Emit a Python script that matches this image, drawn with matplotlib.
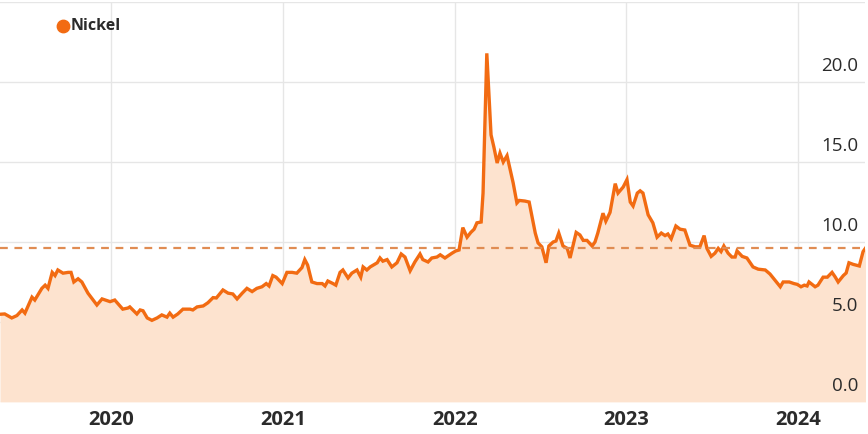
import pandas as pd
import matplotlib.pyplot as plt
import matplotlib.dates as mdates
import matplotlib.transforms as mtransforms

# weekly nickel series
dates = [
    "2019-05-10", "2019-05-20", "2019-06-04", "2019-06-15", "2019-06-26", "2019-07-02",
    "2019-07-17", "2019-07-23", "2019-08-07", "2019-08-14", "2019-08-20", "2019-08-29",
    "2019-09-04", "2019-09-10", "2019-09-21", "2019-10-02", "2019-10-08", "2019-10-14",
    "2019-10-23", "2019-10-31", "2019-11-13", "2019-12-02", "2019-12-13", "2019-12-30",
    "2020-01-09", "2020-01-26", "2020-02-06", "2020-02-10", "2020-02-25", "2020-03-03",
    "2020-03-09", "2020-03-18", "2020-03-28", "2020-04-08", "2020-04-18", "2020-04-29",
    "2020-05-05", "2020-05-12", "2020-05-22", "2020-06-02", "2020-06-17", "2020-06-23",
    "2020-07-02", "2020-07-15", "2020-07-25", "2020-08-05", "2020-08-12", "2020-08-26",
    "2020-09-06", "2020-09-16", "2020-09-25", "2020-10-06", "2020-10-16", "2020-10-27",
    "2020-11-06", "2020-11-17", "2020-11-26", "2020-12-02", "2020-12-10", "2020-12-17",
    "2020-12-30", "2021-01-09", "2021-01-20", "2021-01-30", "2021-02-10", "2021-02-16",
    "2021-02-22", "2021-03-03", "2021-03-14", "2021-03-25", "2021-03-31", "2021-04-06",
    "2021-04-17", "2021-04-23", "2021-05-02", "2021-05-08", "2021-05-19", "2021-05-27",
    "2021-06-07", "2021-06-15", "2021-06-20", "2021-06-28", "2021-07-05", "2021-07-20",
    "2021-07-26", "2021-08-01", "2021-08-10", "2021-08-20", "2021-08-31", "2021-09-09",
    "2021-09-17", "2021-09-28", "2021-10-08", "2021-10-19", "2021-10-25", "2021-11-05",
    "2021-11-13", "2021-11-24", "2021-12-01", "2021-12-11", "2021-12-26", "2022-01-03",
    "2022-01-10", "2022-01-18", "2022-01-27", "2022-02-04", "2022-02-11", "2022-02-17",
    "2022-02-26", "2022-03-02", "2022-03-10", "2022-03-19", "2022-03-25", "2022-04-01",
    "2022-04-07", "2022-04-14", "2022-04-22", "2022-05-05", "2022-05-13", "2022-05-18",
    "2022-05-30", "2022-06-08", "2022-06-21", "2022-06-27", "2022-07-05", "2022-07-14",
    "2022-07-20", "2022-07-29", "2022-08-04", "2022-08-10", "2022-08-19", "2022-08-28",
    "2022-09-03", "2022-09-16", "2022-09-24", "2022-10-01", "2022-10-09", "2022-10-20",
    "2022-10-26", "2022-11-01", "2022-11-12", "2022-11-18", "2022-11-27", "2022-12-08",
    "2022-12-14", "2022-12-25", "2023-01-02", "2023-01-09", "2023-01-15", "2023-01-24",
    "2023-01-30", "2023-02-05", "2023-02-16", "2023-02-26", "2023-03-07", "2023-03-16",
    "2023-03-24", "2023-03-30", "2023-04-06", "2023-04-16", "2023-04-25", "2023-05-05",
    "2023-05-16", "2023-05-27", "2023-06-06", "2023-06-15", "2023-06-21", "2023-06-30",
    "2023-07-08", "2023-07-15", "2023-07-21", "2023-07-27", "2023-08-05", "2023-08-13",
    "2023-08-20", "2023-08-24", "2023-09-04", "2023-09-14", "2023-09-27", "2023-10-08",
    "2023-10-23", "2023-11-02", "2023-11-13", "2023-11-24", "2023-11-30", "2023-12-13",
    "2023-12-23", "2023-12-30", "2024-01-07", "2024-01-14", "2024-01-20", "2024-01-24",
    "2024-02-06", "2024-02-12", "2024-02-23", "2024-03-03", "2024-03-13", "2024-03-20",
    "2024-03-26", "2024-04-06", "2024-04-12", "2024-04-18", "2024-04-27", "2024-05-10",
    "2024-05-18", "2024-05-24",
]
values = [
    5.48, 5.50, 5.25, 5.40, 5.75, 5.55,
    6.55, 6.37, 7.10, 7.30, 7.10, 8.10,
    7.90, 8.25, 8.05, 8.10, 8.10, 7.50,
    7.70, 7.50, 6.80, 6.06, 6.44, 6.27,
    6.37, 5.80, 5.87, 5.94, 5.50, 5.75,
    5.70, 5.25, 5.10, 5.25, 5.44, 5.30,
    5.55, 5.30, 5.50, 5.80, 5.80, 5.75,
    5.94, 6.00, 6.20, 6.52, 6.50, 7.00,
    6.80, 6.75, 6.44, 6.80, 7.10, 6.90,
    7.10, 7.20, 7.40, 7.25, 7.90, 7.80,
    7.40, 8.10, 8.10, 8.05, 8.40, 8.90,
    8.56, 7.50, 7.40, 7.40, 7.25, 7.56,
    7.40, 7.30, 8.10, 8.25, 7.75, 8.05,
    8.25, 7.80, 8.44, 8.25, 8.44, 8.70,
    9.00, 8.80, 8.90, 8.44, 8.70, 9.25,
    9.06, 8.20, 8.75, 9.25, 8.90, 8.75,
    9.00, 9.06, 9.20, 9.00, 9.30, 9.44,
    9.50, 10.90, 10.30, 10.60, 10.80, 11.20,
    11.25, 13.06, 21.80, 16.70, 15.94, 14.94,
    15.56, 15.00, 15.40, 13.70, 12.44, 12.60,
    12.56, 12.50, 10.56, 9.94, 9.70, 8.70,
    9.75, 10.00, 10.06, 10.56, 9.75, 9.60,
    9.00, 10.60, 10.44, 10.10, 10.10, 9.75,
    10.00, 10.56, 11.80, 11.30, 11.85, 13.65,
    13.06, 13.44, 13.90, 12.50, 12.25, 13.06,
    13.20, 13.06, 11.70, 11.20, 10.30, 10.56,
    10.40, 10.50, 10.20, 11.00, 10.80, 10.75,
    9.80, 9.70, 9.70, 10.40, 9.60, 9.10,
    9.30, 9.60, 9.40, 9.75, 9.30, 9.06,
    9.06, 9.44, 9.10, 9.00, 8.44, 8.30,
    8.25, 8.00, 7.60, 7.20, 7.50, 7.50,
    7.40, 7.35, 7.20, 7.30, 7.25, 7.50,
    7.20, 7.30, 7.80, 7.80, 8.10, 7.80,
    7.50, 7.90, 8.06, 8.70, 8.60, 8.50,
    9.40, 9.65,
]

reference_level = 9.65
y_ticks = [0, 5, 10, 15, 20]
year_ticks = ["2020", "2021", "2022", "2023", "2024"]

LINE_COLOR = "#f26b12"
FILL_COLOR = "#fde3cf"
DASH_COLOR = "#e08c52"
GRID_COLOR = "#e6e6e6"
TEXT_COLOR = "#2b2b2b"

plt.rcParams["font.family"] = ["Open Sans", "DejaVu Sans"]

data = pd.DataFrame({"date": pd.to_datetime(dates), "value": values})

fig = plt.figure(figsize=(8.68, 4.34), dpi=100)
ax = fig.add_axes([0.0, 0.074, 0.9965, 0.921])

ax.fill_between(data["date"], 0, data["value"], color=FILL_COLOR, linewidth=0, zorder=1)
ax.plot(data["date"], data["value"], color=LINE_COLOR, linewidth=2.4,
        solid_joinstyle="miter", zorder=3)
ax.axhline(reference_level, color=DASH_COLOR, linewidth=1.6,
           linestyle=(0, (3.5, 3)), zorder=4)

ax.set_xlim(pd.Timestamp("2019-05-10"), pd.Timestamp("2024-05-22"))
ax.set_ylim(0, 25)

# grid
for v in [0, 5, 10, 15, 20, 25]:
    ax.axhline(v, color=GRID_COLOR, linewidth=1.0, zorder=0)
for year in year_ticks:
    ax.axvline(pd.Timestamp(f"{year}-01-01"), color=GRID_COLOR, linewidth=1.0, zorder=0)

for spine in ax.spines.values():
    spine.set_visible(False)
ax.set_yticks([])
ax.set_xticks([pd.Timestamp(f"{year}-01-01") for year in year_ticks])
ax.xaxis.set_major_formatter(mdates.DateFormatter("%Y"))
ax.tick_params(axis="x", length=0, pad=6, labelsize=14.5, labelcolor=TEXT_COLOR)
for label in ax.get_xticklabels():
    label.set_fontweight("bold")

# y labels sit inside the plot, just above their gridline
label_trans = mtransforms.blended_transform_factory(ax.transAxes, ax.transData)
for v in y_ticks:
    ax.annotate(f"{v:.1f}", xy=(0.992, v), xycoords=label_trans,
                xytext=(0, 5), textcoords="offset points",
                ha="right", va="bottom", fontsize=13.5, color=TEXT_COLOR, zorder=5)

# legend
ax.scatter([0.073], [0.94], s=80, color=LINE_COLOR, transform=ax.transAxes,
           zorder=6, clip_on=False)
ax.text(0.082, 0.94, "Nickel", transform=ax.transAxes, ha="left", va="center",
        fontsize=11.5, fontweight="bold", color=TEXT_COLOR)

fig.savefig("out.png", dpi=100, facecolor="white")
